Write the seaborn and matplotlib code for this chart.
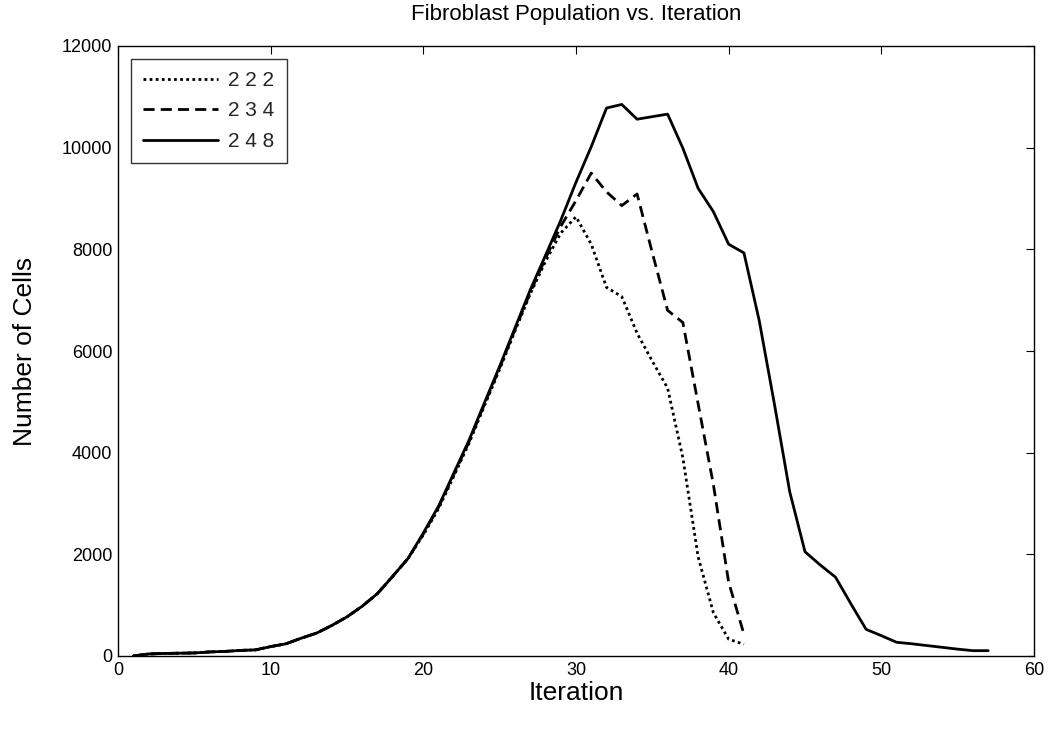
import matplotlib
matplotlib.use("Agg")
import matplotlib.pyplot as plt
import seaborn as sns
import pandas as pd
import numpy as np

sns.set_theme(style="white")
plt.rcParams['font.family'] = ['Liberation Sans', 'DejaVu Sans']

series_labels = ["2 2 2", "2 3 4", "2 4 8"]

cells_222 = [0, 40, 50, 55, 60, 80, 90, 110, 120, 185, 240, 350, 450, 600, 770, 980,
             1230, 1570, 1920, 2380, 2900, 3540, 4190, 4920, 5640, 6390, 7120, 7760,
             8320, 8640, 8100, 7250, 7070, 6350, 5800, 5270, 3900, 1950, 850, 330, 230]
cells_234 = [0, 40, 50, 55, 60, 80, 90, 110, 120, 185, 240, 350, 450, 600, 770, 980,
             1230, 1570, 1920, 2400, 2930, 3570, 4220, 4950, 5670, 6420, 7150, 7820,
             8450, 8960, 9500, 9130, 8860, 9090, 7930, 6800, 6560, 4960, 3370, 1450, 430]
cells_248 = [0, 40, 50, 55, 60, 80, 90, 110, 120, 185, 240, 350, 450, 600, 770, 980,
             1230, 1570, 1920, 2420, 2950, 3600, 4250, 4980, 5700, 6450, 7200, 7880,
             8570, 9320, 10020, 10780, 10850, 10560, 10610, 10660, 9990, 9200, 8740,
             8100, 7930, 6600, 4950, 3230, 2050, 1790, 1550, 1030, 525, 400, 270, 240,
             205, 170, 135, 105, 105]

x_ticks = [0, 10, 20, 30, 40, 50, 60]
y_ticks = [0, 2000, 4000, 6000, 8000, 10000, 12000]

fig = plt.figure(figsize=(10.51, 7.29), dpi=100)
ax = fig.add_axes([118/1051, 1 - 656/729, (1034-118)/1051, (656-46)/729])

styles = [(0, (1, 1.2)), (0, (4, 2.2)), "-"]
for label, vals, ls in zip(series_labels, [cells_222, cells_234, cells_248], styles):
    df = pd.DataFrame({"Iteration": np.arange(1, len(vals) + 1), "Cells": vals})
    sns.lineplot(data=df, x="Iteration", y="Cells", ax=ax, color="black",
                 linestyle=ls, linewidth=2.0, label=label)

ax.set_xlim(0, 60)
ax.set_ylim(0, 12000)
ax.set_xticks(x_ticks)
ax.set_yticks(y_ticks)
ax.tick_params(direction="in", length=6, width=0.8, top=True, right=True,
               labelsize=13, colors="black", pad=4)
for s in ax.spines.values():
    s.set_visible(True)
    s.set_color("black")
    s.set_linewidth(1.0)

ax.set_xlabel("Iteration", fontsize=19, color="black", labelpad=2)
ax.set_ylabel("Number of Cells", fontsize=19, color="black", labelpad=18)
ax.set_title("Fibroblast Population vs. Iteration", fontsize=16, color="black", pad=19)

leg = ax.legend(loc="upper left", fontsize=15, handlelength=3.6, frameon=True,
                fancybox=False, edgecolor="black", borderpad=0.6, labelspacing=0.55,
                handletextpad=0.5, borderaxespad=0.6)
leg.get_frame().set_linewidth(1.0)

fig.savefig("out.png", dpi=100, facecolor="white")
